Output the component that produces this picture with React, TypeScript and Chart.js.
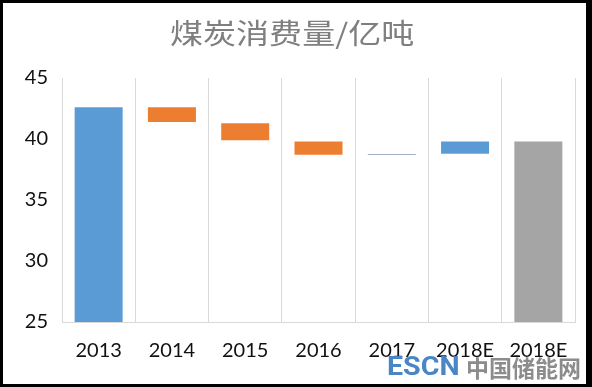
import React, { useEffect, useRef } from 'react';
import { Chart, registerables } from 'chart.js';

Chart.register(...registerables);

// ---- data ----
const categories = ['2013', '2014', '2015', '2016', '2017', '2018E', '2018E'];
const barLows = [25, 41.4, 39.9, 38.7, 38.68, 38.8, 25];
const barHighs = [42.6, 42.6, 41.3, 39.8, 38.76, 39.8, 39.8];
const barColors = ['#5b9bd5', '#ed7d31', '#ed7d31', '#ed7d31', '#8497b0', '#5b9bd5', '#a5a5a5'];
const yMin = 25;
const yMax = 45;
const yStep = 5;
const titleText = '煤炭消费量/亿吨';
const watermarkLatin = 'ESCN';
const watermarkCJK = '中国储能网';

const tickFont = { family: 'Lato, "Open Sans", sans-serif', size: 20 };

export default function App() {
  const canvasRef = useRef<HTMLCanvasElement | null>(null);

  useEffect(() => {
    const canvas = canvasRef.current;
    if (!canvas) return;
    const chart = new Chart(canvas, {
      type: 'bar',
      data: {
        labels: categories,
        datasets: [
          {
            data: categories.map((_, i) => [barLows[i], barHighs[i]]) as any,
            backgroundColor: barColors,
            borderWidth: 0,
            borderSkipped: false,
            categoryPercentage: 1,
            barPercentage: 0.655,
          },
        ],
      },
      options: {
        responsive: false,
        animation: false,
        maintainAspectRatio: false,
        layout: { padding: { top: 78, right: 17, left: 0, bottom: 0 } },
        plugins: {
          legend: { display: false },
          tooltip: { enabled: false },
          title: { display: false },
        },
        scales: {
          x: {
            type: 'category',
            grid: { display: true, offset: true, color: '#d9d9d9', lineWidth: 1, drawTicks: false },
            border: { display: true, color: '#d9d9d9', width: 1 },
            ticks: { font: tickFont, color: '#111', padding: 17, maxRotation: 0, autoSkip: false },
            afterFit: (s: any) => {
              s.height = 65;
            },
          },
          y: {
            min: yMin,
            max: yMax,
            grid: { display: false, drawTicks: false },
            border: { display: false },
            ticks: { stepSize: yStep, font: tickFont, color: '#111', padding: 14 },
            afterFit: (s: any) => {
              s.width = 62;
            },
          },
        },
      },
    });
    return () => chart.destroy();
  }, []);

  return (
    <div
      style={{
        position: 'fixed',
        left: 0,
        top: 0,
        width: 592,
        height: 387,
        background: '#fff',
        overflow: 'hidden',
      }}
    >
      <canvas ref={canvasRef} width={592} height={387} style={{ position: 'absolute', left: 0, top: 0 }} />
      <div
        style={{
          position: 'absolute',
          left: 170,
          top: 18,
          fontFamily: '"Noto Sans CJK SC", sans-serif',
          fontSize: 28,
          lineHeight: 1,
          color: '#7f7f7f',
          whiteSpace: 'nowrap',
          transform: 'scaleX(1.18)',
          transformOrigin: 'left top',
        }}
      >
        {titleText}
      </div>
      <div
        style={{
          position: 'absolute',
          left: 387,
          top: 353,
          fontFamily: 'Roboto, sans-serif',
          fontWeight: 700,
          fontSize: 26,
          lineHeight: 1,
          color: '#4a86c5',
          whiteSpace: 'nowrap',
          transform: 'scaleX(1.1)',
          transformOrigin: 'left top',
        }}
      >
        {watermarkLatin}
      </div>
      <div
        style={{
          position: 'absolute',
          left: 466,
          top: 356,
          fontFamily: '"Noto Sans CJK SC", sans-serif',
          fontWeight: 700,
          fontSize: 23,
          lineHeight: 1,
          color: '#8c8c8c',
          whiteSpace: 'nowrap',
        }}
      >
        {watermarkCJK}
      </div>
      <div
        style={{
          position: 'absolute',
          left: 0,
          top: 0,
          width: 592,
          height: 387,
          boxSizing: 'border-box',
          borderTop: '3px solid #000',
          borderLeft: '3px solid #000',
          borderRight: '6px solid #000',
          borderBottom: '3px solid #000',
          pointerEvents: 'none',
        }}
      />
    </div>
  );
}
